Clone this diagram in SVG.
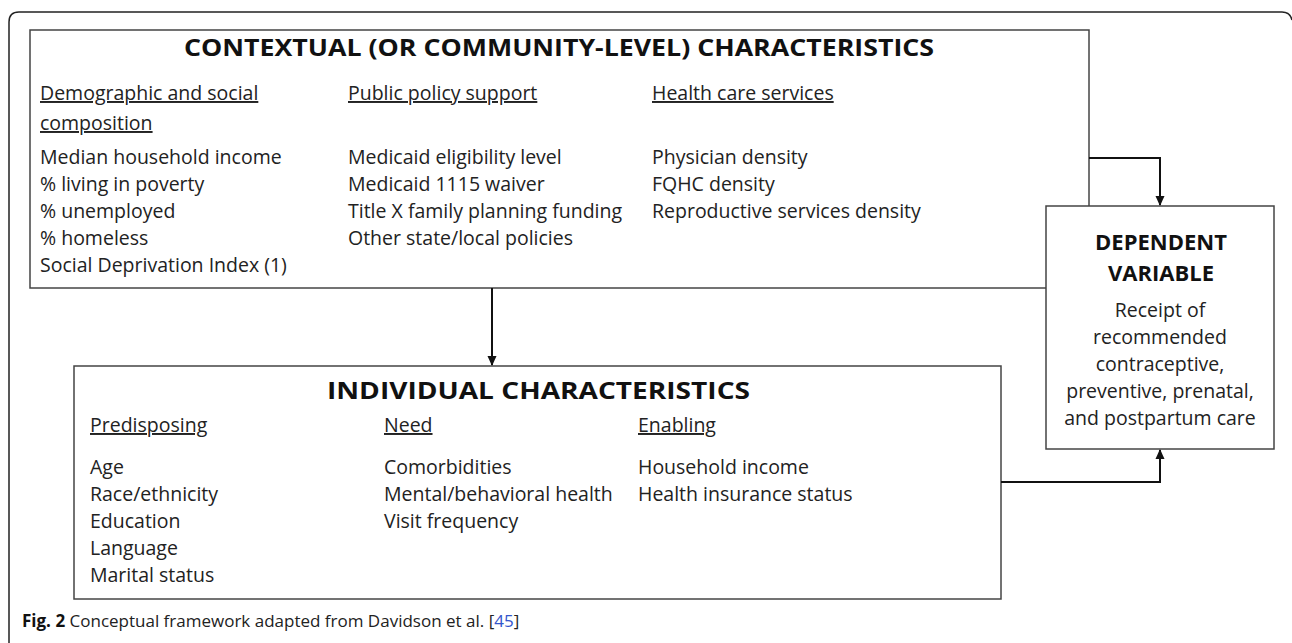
<svg xmlns="http://www.w3.org/2000/svg" width="1292" height="643" viewBox="0 0 1292 643">
<defs>
<marker id="ah" markerWidth="10" markerHeight="10" refX="9" refY="5" orient="auto" markerUnits="userSpaceOnUse">
<path d="M0,0.5 L10,5 L0,9.5 Z" fill="#111"/>
</marker>
<style>
.box{fill:#fff;stroke:#444;stroke-width:1.5}
.t{font-family:"Open Sans","Liberation Sans",sans-serif;font-size:19.5px;fill:#222}
.h{font-family:"Open Sans","Liberation Sans",sans-serif;font-size:22px;font-weight:bold;fill:#111}
.hl{font-size:23.5px}
.u{text-decoration:underline}
.c{text-anchor:middle}
.conn{fill:none;stroke:#111;stroke-width:2}
</style>
</defs>
<rect width="1292" height="643" fill="#fff"/>
<path d="M9,660 L9,22 Q9,12 19,12 L1282,12 Q1290,12 1292,20" fill="none" stroke="#222" stroke-width="1.5"/>
<g id="contextual">
<rect class="box" x="30" y="30" width="1059" height="258"/>
<text class="h hl c" x="559" y="56" textLength="750" lengthAdjust="spacingAndGlyphs">CONTEXTUAL (OR COMMUNITY-LEVEL) CHARACTERISTICS</text>
<text class="t u" x="40" y="100">Demographic and social</text>
<text class="t u" x="40" y="130">composition</text>
<text class="t" x="40" y="164">Median household income</text>
<text class="t" x="40" y="191">% living in poverty</text>
<text class="t" x="40" y="218">% unemployed</text>
<text class="t" x="40" y="245">% homeless</text>
<text class="t" x="40" y="272">Social Deprivation Index (1)</text>
<text class="t u" x="348" y="100">Public policy support</text>
<text class="t" x="348" y="164">Medicaid eligibility level</text>
<text class="t" x="348" y="191">Medicaid 1115 waiver</text>
<text class="t" x="348" y="218">Title X family planning funding</text>
<text class="t" x="348" y="245">Other state/local policies</text>
<text class="t u" x="652" y="100">Health care services</text>
<text class="t" x="652" y="164">Physician density</text>
<text class="t" x="652" y="191">FQHC density</text>
<text class="t" x="652" y="218">Reproductive services density</text>
</g>
<g id="dependent">
<rect class="box" x="1046" y="206" width="228" height="243"/>
<text class="h c" x="1161" y="250">DEPENDENT</text>
<text class="h c" x="1161" y="281">VARIABLE</text>
<text class="t c" x="1160" y="317">Receipt of</text>
<text class="t c" x="1160" y="344">recommended</text>
<text class="t c" x="1160" y="371">contraceptive,</text>
<text class="t c" x="1160" y="398">preventive, prenatal,</text>
<text class="t c" x="1160" y="425">and postpartum care</text>
</g>
<g id="individual">
<rect class="box" x="74" y="366" width="927" height="233"/>
<text class="h hl c" x="538.5" y="399" textLength="423" lengthAdjust="spacingAndGlyphs">INDIVIDUAL CHARACTERISTICS</text>
<text class="t u" x="90" y="432">Predisposing</text>
<text class="t" x="90" y="474">Age</text>
<text class="t" x="90" y="501">Race/ethnicity</text>
<text class="t" x="90" y="528">Education</text>
<text class="t" x="90" y="555">Language</text>
<text class="t" x="90" y="582">Marital status</text>
<text class="t u" x="384" y="432">Need</text>
<text class="t" x="384" y="474">Comorbidities</text>
<text class="t" x="384" y="501">Mental/behavioral health</text>
<text class="t" x="384" y="528">Visit frequency</text>
<text class="t u" x="638" y="432">Enabling</text>
<text class="t" x="638" y="474">Household income</text>
<text class="t" x="638" y="501">Health insurance status</text>
</g>
<g id="connectors">
<path class="conn" d="M492,288 L492,365" marker-end="url(#ah)"/>
<path class="conn" d="M1089,158 L1160,158 L1160,205" marker-end="url(#ah)"/>
<path class="conn" d="M1001,482 L1160,482 L1160,450" marker-end="url(#ah)"/>
</g>
<g id="caption">
<text class="t" x="22" y="627" style="font-size:17px"><tspan font-weight="bold" fill="#111">Fig. 2</tspan> Conceptual framework adapted from Davidson et al. [<tspan fill="#3355cc">45</tspan>]</text>
</g>
</svg>
